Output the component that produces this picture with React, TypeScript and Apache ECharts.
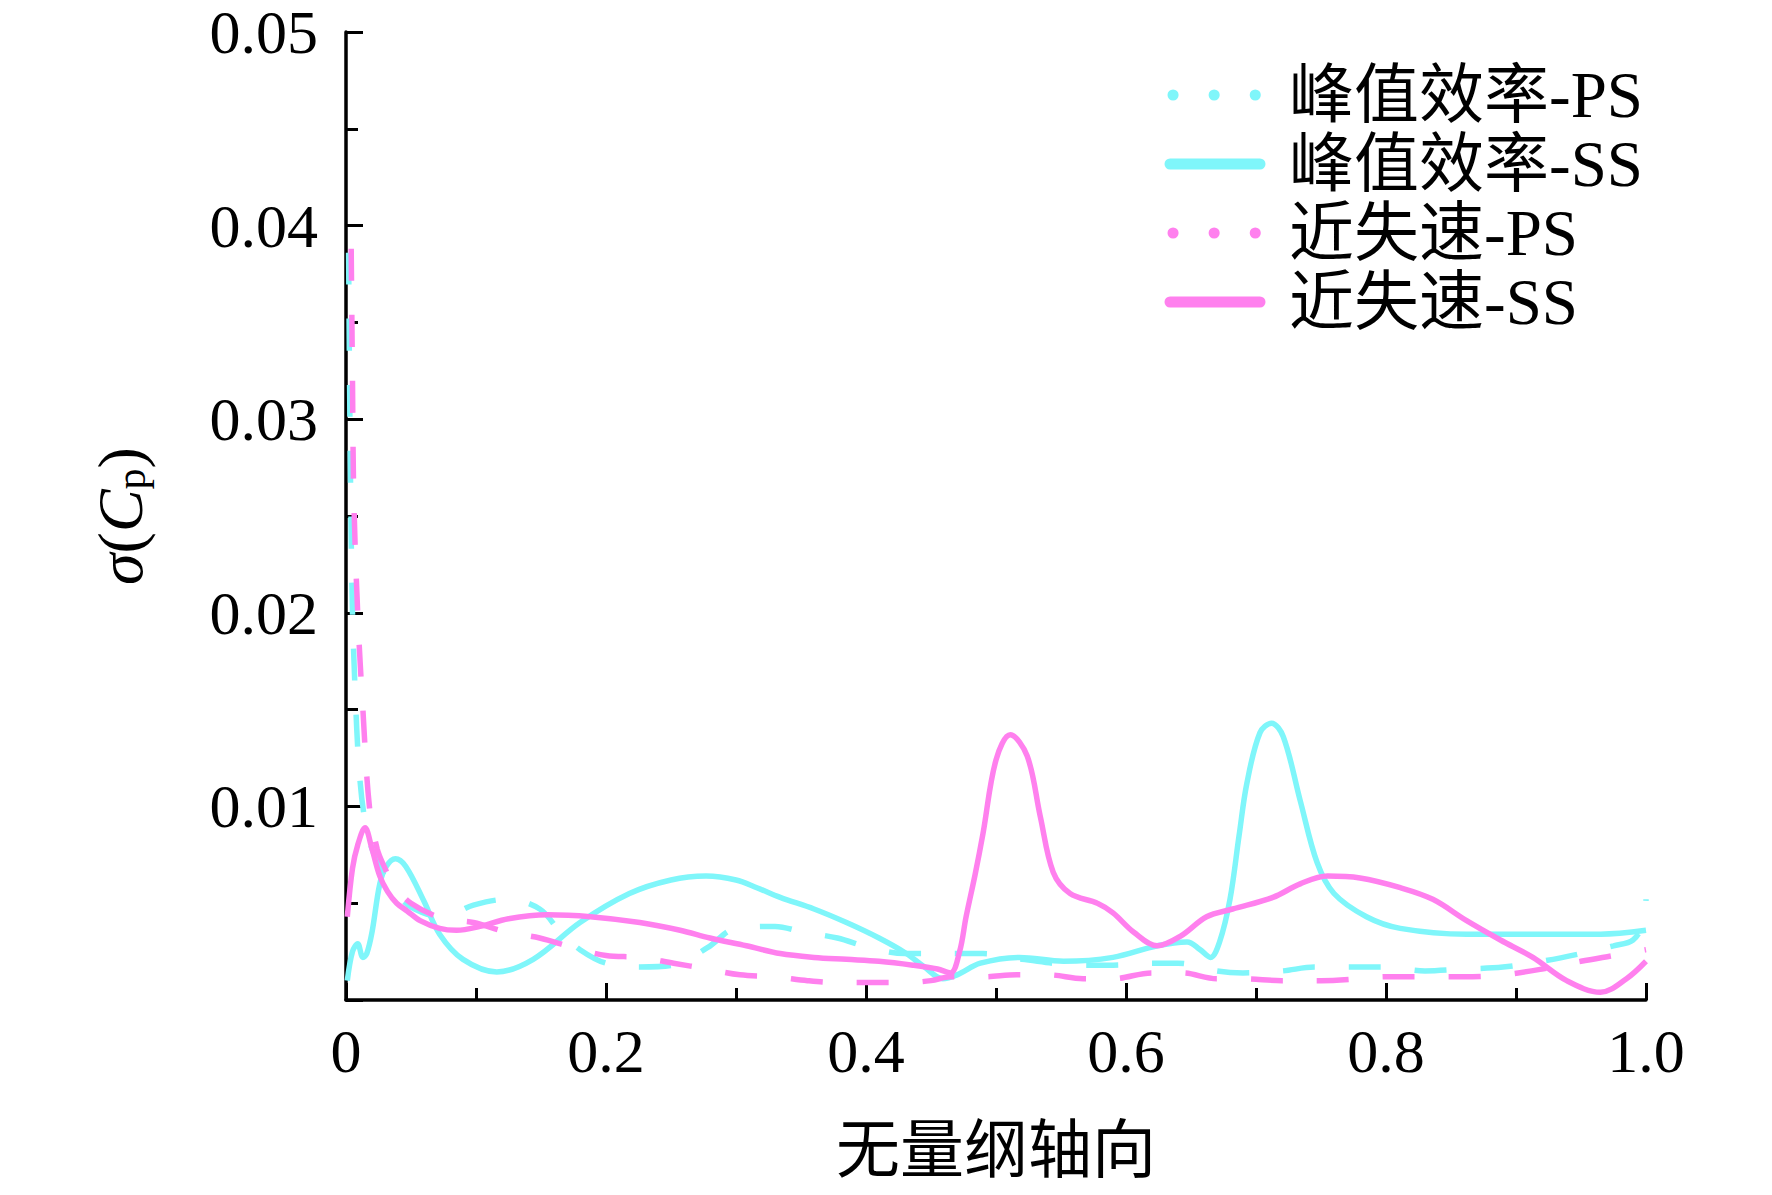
import React, { useEffect, useRef } from 'react';
import * as echarts from 'echarts';

const seriesNames = ['峰值效率-PS', '峰值效率-SS', '近失速-PS', '近失速-SS'];
const colorCyan = '#7ff6fa';
const colorPink = '#ff80ee';

const xTickValues = [0, 0.2, 0.4, 0.6, 0.8, 1.0];
const yTickValues = [0, 0.01, 0.02, 0.03, 0.04, 0.05];

const peakPS: [number, number][] = [
  [0.002, 0.0386], [0.003, 0.030], [0.004, 0.024], [0.005, 0.020], [0.007, 0.016],
  [0.010, 0.012], [0.014, 0.0095], [0.020, 0.0078], [0.028, 0.0066], [0.036, 0.0058],
  [0.050, 0.0048], [0.075, 0.0043], [0.098, 0.0049], [0.124, 0.0052], [0.149, 0.0047],
  [0.165, 0.0035], [0.180, 0.0026], [0.200, 0.0019], [0.226, 0.0017], [0.252, 0.0018],
  [0.278, 0.0027], [0.300, 0.0037], [0.330, 0.0038], [0.352, 0.0035], [0.378, 0.0032],
  [0.403, 0.0027], [0.430, 0.0024], [0.470, 0.0024], [0.490, 0.0024], [0.520, 0.0021],
  [0.565, 0.0018], [0.590, 0.0018], [0.620, 0.0019], [0.640, 0.0019], [0.670, 0.0015],
  [0.690, 0.0014], [0.720, 0.0015], [0.745, 0.0017], [0.800, 0.0017], [0.830, 0.0015],
  [0.860, 0.0016], [0.890, 0.0017], [0.920, 0.0020], [0.950, 0.0024], [0.975, 0.0028],
  [0.990, 0.0031], [0.998, 0.0040], [1.000, 0.0052],
];

const peakSS: [number, number][] = [
  [0.001, 0.0010], [0.005, 0.0025], [0.009, 0.0029], [0.013, 0.0022], [0.016, 0.0024],
  [0.020, 0.0035], [0.026, 0.0060], [0.031, 0.0069], [0.038, 0.0073], [0.046, 0.0069],
  [0.060, 0.0051], [0.072, 0.0034], [0.090, 0.0021], [0.116, 0.00145], [0.144, 0.0021],
  [0.180, 0.0040], [0.218, 0.0055], [0.250, 0.0062], [0.277, 0.0064], [0.300, 0.0062],
  [0.316, 0.0058], [0.334, 0.0053], [0.360, 0.0047], [0.385, 0.0040], [0.410, 0.0032],
  [0.431, 0.0024], [0.445, 0.0017], [0.459, 0.0011], [0.470, 0.0013], [0.488, 0.0019],
  [0.518, 0.0022], [0.552, 0.0020], [0.590, 0.0022], [0.624, 0.0028], [0.647, 0.0030],
  [0.657, 0.0026], [0.665, 0.0022], [0.672, 0.0030], [0.680, 0.0052], [0.687, 0.0085],
  [0.693, 0.0112], [0.703, 0.0138], [0.712, 0.0143], [0.721, 0.0136], [0.734, 0.0103],
  [0.747, 0.0071], [0.760, 0.0055], [0.785, 0.0043], [0.811, 0.0037], [0.862, 0.0034],
  [0.913, 0.0034], [0.965, 0.0034], [1.000, 0.0036],
];

const stallPS: [number, number][] = [
  [0.004, 0.0388], [0.005, 0.032], [0.006, 0.026], [0.009, 0.020], [0.013, 0.015],
  [0.018, 0.0100], [0.024, 0.0078], [0.030, 0.0068], [0.036, 0.0060], [0.050, 0.0050],
  [0.075, 0.0042], [0.098, 0.0040], [0.124, 0.0035], [0.149, 0.0032], [0.175, 0.0027],
  [0.200, 0.0023], [0.226, 0.0022], [0.252, 0.0019], [0.278, 0.0016], [0.303, 0.0013],
  [0.330, 0.0012], [0.355, 0.0010], [0.380, 0.0009], [0.400, 0.0009], [0.430, 0.0009],
  [0.450, 0.0010], [0.465, 0.0012], [0.490, 0.0012], [0.516, 0.0013], [0.540, 0.0013],
  [0.567, 0.0011], [0.590, 0.0011], [0.620, 0.0014], [0.643, 0.0014], [0.670, 0.0011],
  [0.690, 0.0011], [0.720, 0.0010], [0.750, 0.0010], [0.780, 0.0011], [0.800, 0.0012],
  [0.830, 0.0012], [0.860, 0.0012], [0.890, 0.0013], [0.920, 0.0016], [0.950, 0.0020],
  [0.975, 0.0023], [1.000, 0.0026],
];

const stallSS: [number, number][] = [
  [0.001, 0.0043], [0.005, 0.0068], [0.009, 0.0080], [0.0146, 0.0089], [0.020, 0.0078],
  [0.026, 0.0064], [0.032, 0.0056], [0.039, 0.0050], [0.047, 0.0046], [0.057, 0.0041],
  [0.072, 0.0037], [0.085, 0.0036], [0.103, 0.0038], [0.125, 0.0042], [0.155, 0.0044],
  [0.188, 0.0043], [0.226, 0.0040], [0.257, 0.0036], [0.280, 0.0032], [0.308, 0.0028],
  [0.334, 0.0024], [0.360, 0.0022], [0.385, 0.0021], [0.410, 0.0020], [0.436, 0.0018],
  [0.455, 0.0016], [0.465, 0.0014], [0.472, 0.0025], [0.477, 0.0043], [0.484, 0.0065],
  [0.490, 0.0086], [0.500, 0.0124], [0.511, 0.0137], [0.524, 0.0126], [0.534, 0.0095],
  [0.544, 0.0066], [0.557, 0.0055], [0.578, 0.0050], [0.590, 0.0045], [0.606, 0.0035],
  [0.624, 0.0028], [0.642, 0.0033], [0.662, 0.0043], [0.682, 0.0047], [0.713, 0.0053],
  [0.734, 0.0060], [0.755, 0.0064], [0.780, 0.0063], [0.811, 0.0058], [0.836, 0.0052],
  [0.862, 0.0041], [0.888, 0.0031], [0.913, 0.0022], [0.939, 0.0010], [0.965, 0.0004],
  [0.985, 0.0011], [1.000, 0.0020],
];

const FONT = "'Liberation Serif', 'Noto Sans CJK SC', serif";

export default function App() {
  const ref = useRef<HTMLDivElement>(null);
  useEffect(() => {
    if (!ref.current) return;
    const chart = echarts.init(ref.current, undefined, { renderer: 'svg' });
    const dash = [32, 34];
    const seriesData = [peakPS, peakSS, stallPS, stallSS];
    const colors = [colorCyan, colorCyan, colorPink, colorPink];
    const dashed = [true, false, true, false];

    const legendRows = [95, 164, 233, 302];
    const legendGraphics: any[] = [];
    seriesNames.forEach((name, i) => {
      const y = legendRows[i];
      legendGraphics.push({
        type: 'line',
        shape: dashed[i] ? { x1: 1173, y1: y, x2: 1258, y2: y } : { x1: 1170, y1: y, x2: 1260, y2: y },
        style: {
          stroke: colors[i],
          lineWidth: 11,
          lineCap: 'round',
          lineDash: dashed[i] ? [0.1, 41] : null,
        },
      });
      legendGraphics.push({
        type: 'text',
        x: 1289,
        y: y,
        style: {
          text: name,
          font: `65px ${FONT}`,
          fill: '#000',
          verticalAlign: 'middle',
          align: 'left',
        },
      });
    });

    const axisCommon = {
      axisLine: { show: true, lineStyle: { color: '#000', width: 3.5 } },
      axisTick: { show: true, inside: true, length: 17, lineStyle: { color: '#000', width: 3 } },
      minorTick: { show: true, splitNumber: 2, length: 12, lineStyle: { color: '#000', width: 3 } },
      splitLine: { show: false },
    };

    chart.setOption({
      animation: false,
      backgroundColor: '#fff',
      grid: { left: 346, right: 126, top: 32, bottom: 195, containLabel: false },
      xAxis: {
        type: 'value',
        min: xTickValues[0],
        max: xTickValues[xTickValues.length - 1],
        interval: 0.2,
        ...axisCommon,
        axisLabel: {
          margin: 20,
          color: '#000',
          fontSize: 62,
          fontFamily: FONT,
          formatter: (v: number) => (v === 0 ? '0' : v.toFixed(1)),
        },
        name: '无量纲轴向',
        nameLocation: 'middle',
        nameGap: 118,
        nameTextStyle: { color: '#000', fontSize: 64, fontFamily: FONT },
      },
      yAxis: {
        type: 'value',
        min: yTickValues[0],
        max: yTickValues[yTickValues.length - 1],
        interval: 0.01,
        ...axisCommon,
        axisLabel: {
          margin: 28,
          color: '#000',
          fontSize: 62,
          lineHeight: 50,
          padding: [6, 0, 0, 0],
          fontFamily: FONT,
          formatter: (v: number) => (v === 0 ? '' : v.toFixed(2)),
        },
        name: '{i|σ}({i|C}{sub|p})',
        nameLocation: 'middle',
        nameGap: 194,
        nameRotate: 90,
        nameTextStyle: {
          color: '#000',
          fontSize: 64,
          fontFamily: FONT,
          rich: {
            i: { fontStyle: 'italic', fontSize: 64, fontFamily: FONT, color: '#000' },
            sub: { fontSize: 42, fontFamily: FONT, color: '#000', verticalAlign: 'bottom', lineHeight: 36 },
          },
        },
      },
      series: seriesNames.map((name, i) => ({
        name,
        type: 'line',
        data: seriesData[i],
        symbol: 'none',
        showSymbol: false,
        smooth: 0.35,
        lineStyle: { color: colors[i], width: 5.5, type: dashed[i] ? dash : 'solid' },
        z: 2 + i,
      })),
      graphic: legendGraphics,
    });
    return () => chart.dispose();
  }, []);
  return <div ref={ref} style={{ position: 'absolute', left: 0, top: 0, width: 1772, height: 1195 }} />;
}
